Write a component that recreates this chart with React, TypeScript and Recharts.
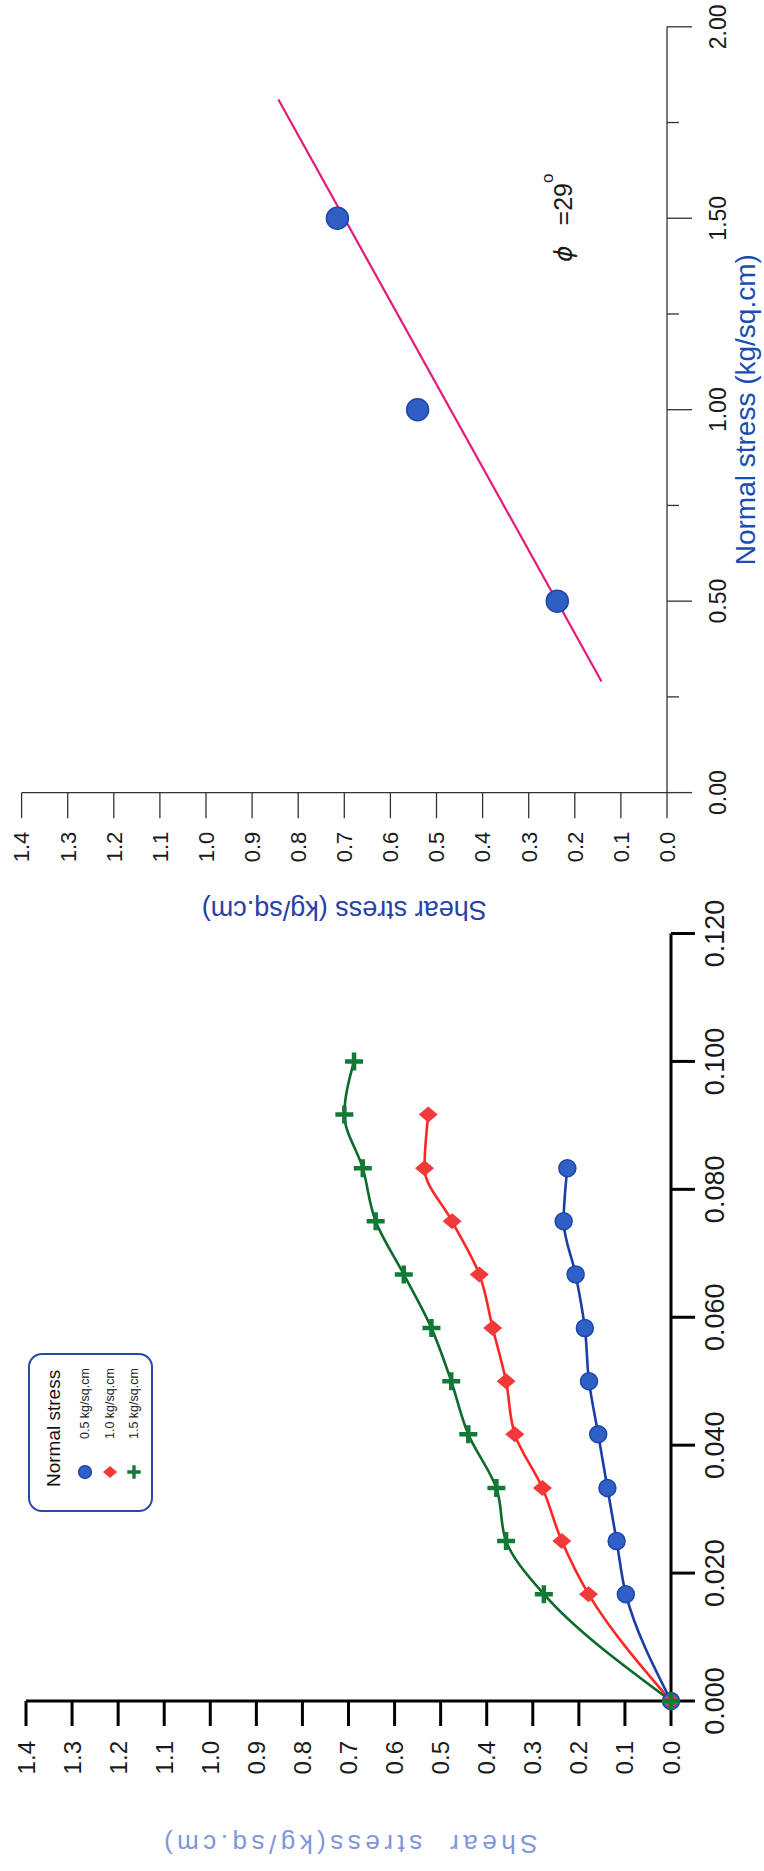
import React from "react";
import {
  LineChart,
  ComposedChart,
  Line,
  Scatter,
  XAxis,
  YAxis,
  Legend,
  ReferenceDot,
} from "recharts";

// left chart: shear stress vs horizontal displacement
const displacement = [0, 0.0167, 0.025, 0.0333, 0.0417, 0.05, 0.0583, 0.0667, 0.075, 0.0833, 0.0917, 0.1];
const shear05 = [0, 0.098, 0.118, 0.138, 0.158, 0.178, 0.187, 0.207, 0.233, 0.225];
const shear10 = [0, 0.179, 0.237, 0.279, 0.339, 0.358, 0.387, 0.416, 0.475, 0.535, 0.527];
const shear15 = [0, 0.276, 0.358, 0.379, 0.44, 0.477, 0.52, 0.58, 0.641, 0.669, 0.709, 0.688];
const stressLabels = ["0.5 kg/sq.cm", "1.0 kg/sq.cm", "1.5 kg/sq.cm"];

// right chart: failure envelope
const normalStress = [0.5, 1.0, 1.5];
const peakShear = [0.238, 0.541, 0.715];
const envelopeNormal = [0.29, 1.81];
const envelopeShear = [0.142, 0.843];

const dispTicks = [0, 0.02, 0.04, 0.06, 0.08, 0.1, 0.12];
const shearTicks = [0, 0.1, 0.2, 0.3, 0.4, 0.5, 0.6, 0.7, 0.8, 0.9, 1.0, 1.1, 1.2, 1.3, 1.4];
const normalTicks = [0, 0.25, 0.5, 0.75, 1.0, 1.25, 1.5, 1.75, 2.0];
const normalLabelled = [0, 0.5, 1.0, 1.5, 2.0];

const seriesOf = (ys: number[]) => ys.map((s, i) => ({ d: displacement[i], s }));

const tests = [
  { name: stressLabels[0], data: seriesOf(shear05), line: "#1b3da6", fill: "#2f60c8", shape: "circle" },
  { name: stressLabels[1], data: seriesOf(shear10), line: "#ff2626", fill: "#f03a3a", shape: "diamond" },
  { name: stressLabels[2], data: seriesOf(shear15), line: "#0b6a2c", fill: "#117a36", shape: "plus" },
];

const peaks = normalStress.map((n, i) => ({ n, s: peakShear[i] }));
const envelope = envelopeNormal.map((n, i) => ({ n, s: envelopeShear[i] }));

const FONT = "'Liberation Sans', Arial, Helvetica, sans-serif";

function markerPath(shape: string, cx: number, cy: number, fill: string, key: any, k = 1) {
  if (shape === "circle")
    return <circle key={key} cx={cx} cy={cy} r={8.5 * k} fill={fill} stroke="#1d47a6" strokeWidth={1.5} />;
  if (shape === "diamond")
    return (
      <path
        key={key}
        d={`M${cx},${cy - 9.5 * k}L${cx + 8 * k},${cy}L${cx},${cy + 9.5 * k}L${cx - 8 * k},${cy}Z`}
        fill={fill}
      />
    );
  return (
    <path
      key={key}
      d={`M${cx - 9 * k},${cy}H${cx + 9 * k}M${cx},${cy - 9 * k}V${cy + 9 * k}`}
      stroke={fill}
      strokeWidth={4.5 * k}
      fill="none"
    />
  );
}

const dotFor = (shape: string, fill: string) => (p: any) => {
  if (p.cx == null || p.cy == null) return <g key={p.index} />;
  return markerPath(shape, p.cx, p.cy, fill, p.index);
};

const LegendBox = () => (
  <div
    style={{
      width: 159,
      height: 125,
      boxSizing: "border-box",
      border: "2px solid #2a48a8",
      borderRadius: 14,
      position: "relative",
      fontFamily: FONT,
      background: "#fff",
    }}
  >
    <div style={{ position: "absolute", left: 23, top: 13, fontSize: 19, color: "#111" }}>Normal stress</div>
    {tests.map((t, i) => (
      <div
        key={t.name}
        style={{ position: "absolute", left: 0, top: 44 + i * 24.5, height: 22, width: 155, display: "flex", alignItems: "center" }}
      >
        <svg width={22} height={22} style={{ marginLeft: 27 }}>
          {markerPath(t.shape, 11, 11, t.fill, i, 0.75)}
        </svg>
        <span style={{ marginLeft: 22, fontSize: 12.5, color: "#222" }}>{t.name}</span>
      </div>
    ))}
  </div>
);

const NormalTick = (props: any) => {
  const { x, y, payload } = props;
  const major = normalLabelled.includes(payload.value);
  return (
    <g>
      <line x1={x} y1={y} x2={x} y2={y + (major ? 25 : 12)} stroke="#333" strokeWidth={1.3} />
      {major && (
        <text x={x} y={y + 43} dy="0.71em" textAnchor="middle" fontSize={23} fill="#1a1a1a">
          {payload.value.toFixed(2)}
        </text>
      )}
    </g>
  );
};

const PhiLabel = (props: any) => {
  const vb = props.viewBox || {};
  return (
    <text x={vb.x} y={vb.y} fontSize={25} fill="#1a1a1a">
      <tspan fontStyle="italic" fontFamily="'DejaVu Sans', sans-serif">ϕ</tspan>
      <tspan dx={20}>=29</tspan>
      <tspan dy={-19} fontSize={17}>o</tspan>
    </text>
  );
};

export default function App() {
  return (
    <div style={{ position: "absolute", left: 0, top: 0, width: 764, height: 1871, overflow: "hidden", background: "#fff" }}>
      <div
        style={{
          position: "absolute",
          left: 0,
          top: 0,
          width: 1871,
          height: 764,
          transformOrigin: "0 0",
          transform: "translateY(1871px) rotate(-90deg)",
          fontFamily: FONT,
        }}
      >
        <div style={{ position: "absolute", left: 0, top: 0 }}>
          <LineChart width={1000} height={764} margin={{ top: 26, right: 62.5, bottom: 33, left: 0 }}>
            <XAxis
              type="number"
              dataKey="d"
              domain={[0, 0.12]}
              ticks={dispTicks}
              interval={0}
              tickFormatter={(v: number) => v.toFixed(3)}
              height={60}
              tickSize={24}
              tickMargin={10}
              axisLine={{ stroke: "#000", strokeWidth: 3 }}
              tickLine={{ stroke: "#000", strokeWidth: 3 }}
              tick={{ fill: "#1a1a1a", fontSize: 27 }}
            />
            <YAxis
              type="number"
              domain={[0, 1.4]}
              ticks={shearTicks}
              interval={0}
              tickFormatter={(v: number) => v.toFixed(1)}
              width={170}
              tickSize={25}
              tickMargin={15}
              axisLine={{ stroke: "#000", strokeWidth: 3 }}
              tickLine={{ stroke: "#000", strokeWidth: 3 }}
              tick={{ fill: "#1a1a1a", fontSize: 24 }}
              label={{
                value: "Shear\u00a0\u00a0stress(kg/sq.cm)",
                angle: -90,
                position: "insideLeft",
                offset: 27,
                style: { textAnchor: "middle", fill: "#8096dc", fontSize: 26, letterSpacing: 4.5 },
              }}
            />
            {tests.map((t) => (
              <Line
                key={t.name}
                name={t.name}
                data={t.data}
                dataKey="s"
                type="monotone"
                stroke={t.line}
                strokeWidth={2.6}
                dot={dotFor(t.shape, t.fill)}
                isAnimationActive={false}
              />
            ))}
            <Legend
              layout="vertical"
              align="center"
              verticalAlign="middle"
              content={() => <LegendBox />}
              wrapperStyle={{ left: 359, top: 28, width: 159, height: 125 }}
            />
          </LineChart>
        </div>

        <div style={{ position: "absolute", left: 900, top: 0 }}>
          <ComposedChart width={971} height={764} margin={{ top: 21.6, right: 26.8, bottom: 2, left: 0 }}>
            <XAxis
              type="number"
              dataKey="n"
              domain={[0, 2]}
              ticks={normalTicks}
              interval={0}
              height={95}
              tickSize={0}
              tickMargin={0}
              tickLine={false}
              axisLine={{ stroke: "#333", strokeWidth: 1.3 }}
              tick={<NormalTick />}
              label={{
                value: "Normal stress (kg/sq.cm)",
                position: "insideBottom",
                offset: 7,
                style: { fill: "#1a4db3", fontSize: 28 },
              }}
            />
            <YAxis
              type="number"
              domain={[0, 1.4]}
              ticks={shearTicks}
              interval={0}
              tickFormatter={(v: number) => v.toFixed(1)}
              width={178.4}
              tickSize={25.6}
              tickMargin={13.5}
              axisLine={{ stroke: "#333", strokeWidth: 1.3 }}
              tickLine={{ stroke: "#333", strokeWidth: 1.3 }}
              tick={{ fill: "#1a1a1a", fontSize: 22 }}
              label={{
                value: "Shear stress (kg/sq.cm)",
                angle: -90,
                position: "insideLeft",
                offset: 60,
                style: { textAnchor: "middle", fill: "#2840a8", fontSize: 27 },
              }}
            />
            <Line
              data={envelope}
              dataKey="s"
              type="linear"
              stroke="#e5197a"
              strokeWidth={2.2}
              dot={false}
              isAnimationActive={false}
            />
            <Scatter
              data={peaks}
              dataKey="s"
              isAnimationActive={false}
              shape={(p: any) => <circle cx={p.cx} cy={p.cy} r={11} fill="#2f5fc4" stroke="#1f47a8" strokeWidth={1.5} />}
            />
            <ReferenceDot x={1.386} y={0.206} r={0} fill="none" stroke="none" label={<PhiLabel />} />
          </ComposedChart>
        </div>
      </div>
    </div>
  );
}
